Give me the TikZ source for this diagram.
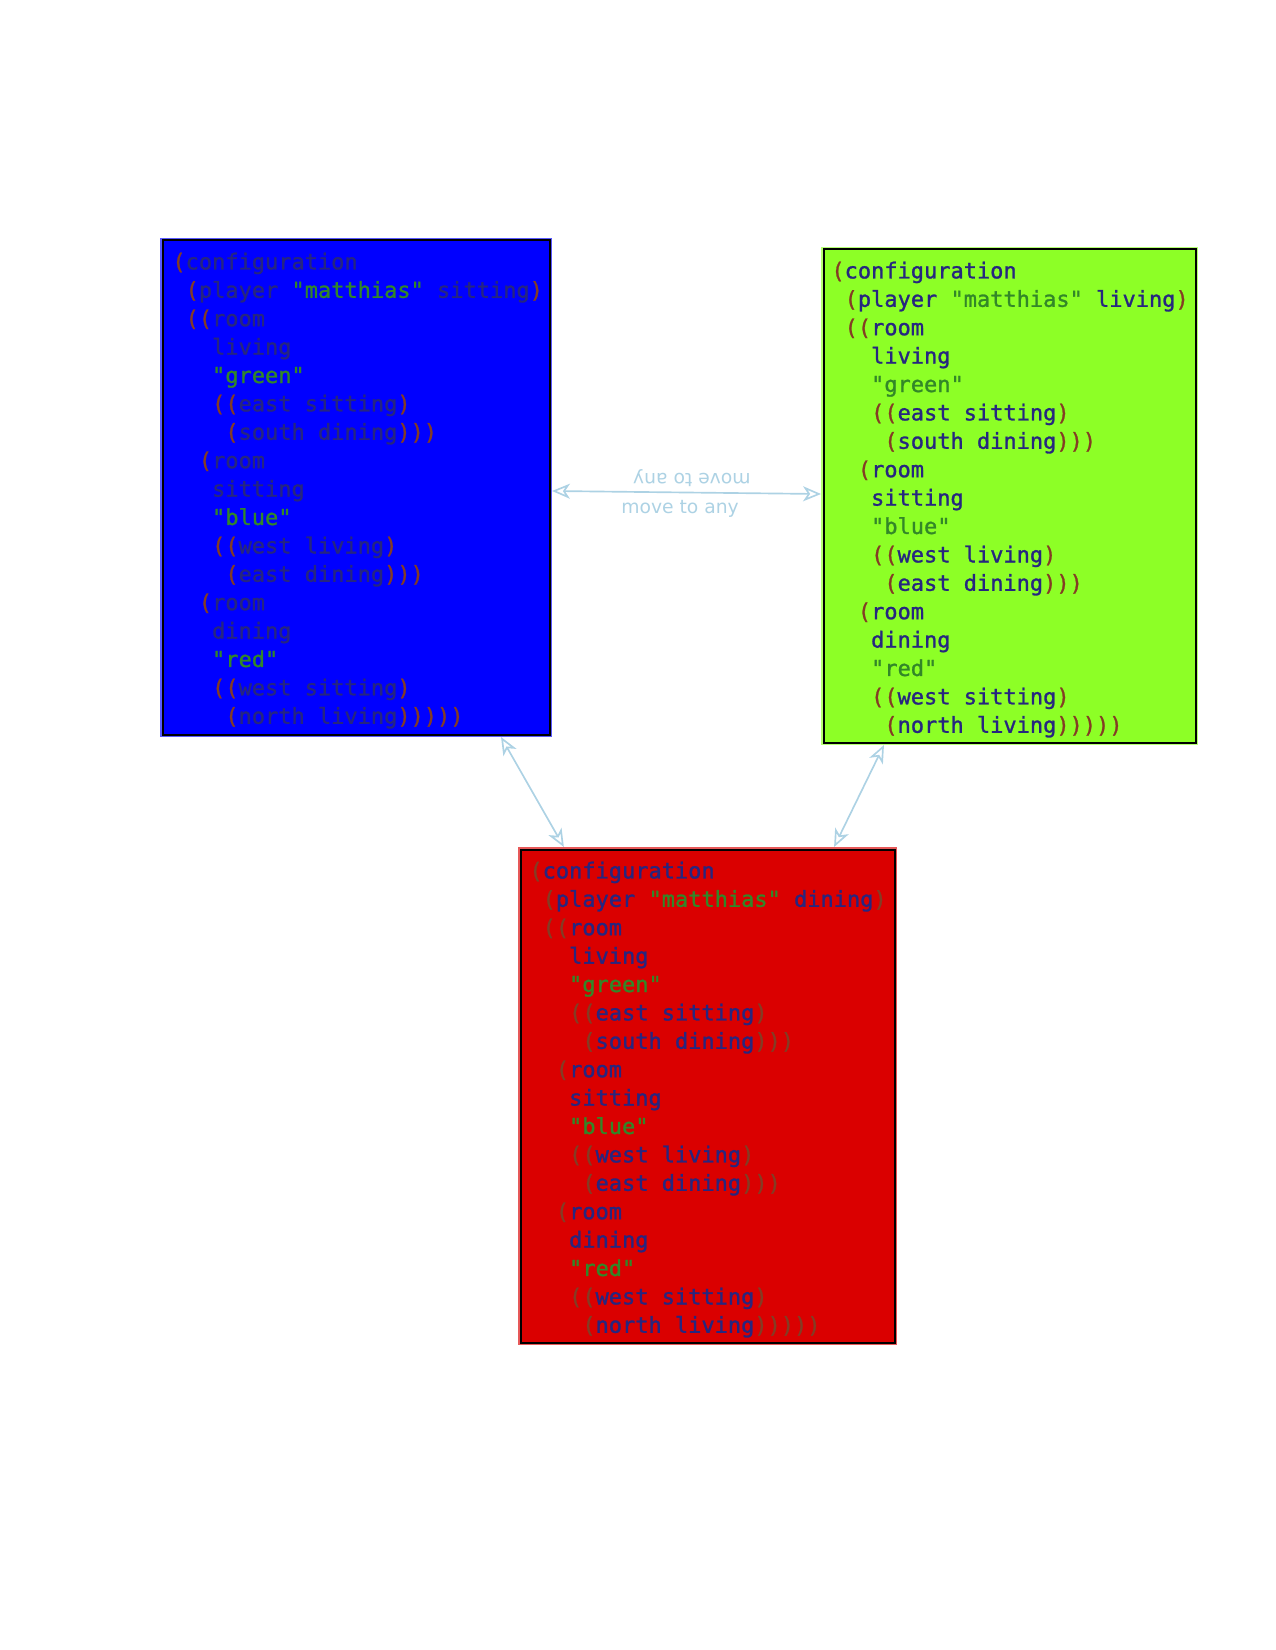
\documentclass[tikz,border=0pt]{standalone}
\usepackage{fontspec}
\usetikzlibrary{arrows.meta,calc}
\newfontfamily\cfgmono[FakeBold=1.2]{DejaVu Sans Mono}
\newfontfamily\labfont{DejaVu Sans}
\newlength\pxl \setlength\pxl{0.48pt}
\definecolor{boxblue}{RGB}{0,0,255}
\definecolor{boxgreen}{RGB}{141,255,38}
\definecolor{boxred}{RGB}{218,0,0}
\definecolor{parc}{RGB}{132,60,36}
\definecolor{symc}{RGB}{38,38,128}
\definecolor{strc}{RGB}{50,135,40}
\definecolor{arrc}{RGB}{173,210,228}
\newcommand\cp[1]{\textcolor{parc}{#1}}
\newcommand\cs[1]{\textcolor{symc}{#1}}
\newcommand\cg[1]{\textcolor{strc}{#1}}
\newcommand\ind[1]{\hspace*{\dimexpr#1\fontcharwd\font`x\relax}}
\newcommand\cfgtext[1]{%
\rule{0pt}{14.88pt}\cp{(}\cs{configuration}\\
\ind{1}\cp{(}\cs{player} \cg{"matthias"} \cs{#1}\cp{)}\\
\ind{1}\cp{((}\cs{room}\\
\ind{3}\cs{living}\\
\ind{3}\cg{"green"}\\
\ind{3}\cp{((}\cs{east sitting}\cp{)}\\
\ind{4}\cp{(}\cs{south dining}\cp{)))}\\
\ind{2}\cp{(}\cs{room}\\
\ind{3}\cs{sitting}\\
\ind{3}\cg{"blue"}\\
\ind{3}\cp{((}\cs{west living}\cp{)}\\
\ind{4}\cp{(}\cs{east dining}\cp{)))}\\
\ind{2}\cp{(}\cs{room}\\
\ind{3}\cs{dining}\\
\ind{3}\cg{"red"}\\
\ind{3}\cp{((}\cs{west sitting}\cp{)}\\
\ind{4}\cp{(}\cs{north living}\cp{)))))}}
\tikzset{
  ah/.tip={Stealth[open,length=8.6pt,width=7.2pt,inset=2.4pt]},
  cfgbox/.style={rectangle, fill=#1, draw=black, line width=0.96pt,
    inner sep=0pt, outer sep=1.2pt,
    preaction={draw=#1!65!white, line width=2.4pt}},
  cfgtxt/.style={anchor=north west, inner sep=0pt, align=left,
    font={\cfgmono\fontsize{10.55}{13.63}\selectfont}},
  movearrow/.style={draw=arrc, line width=0.8pt, ah-ah},
  lab/.style={text=arrc, font={\labfont\fontsize{9}{11}\selectfont}},
}
\begin{document}
\begin{tikzpicture}[x=0.48pt,y=-0.48pt]
\useasboundingbox (0,0) rectangle (1275,1650);
% boxes
\node[cfgbox=boxblue, minimum width=185.76pt, minimum height=237.12pt] (blue) at (356,487.5) {};
\node[cfgbox=boxgreen, minimum width=178.56pt, minimum height=236.64pt] (green) at (1009.5,496) {};
\node[cfgbox=boxred, minimum width=179.52pt, minimum height=236.64pt] (red) at (707.5,1096) {};
% texts
\node[cfgtxt] (bluetext) at ($(blue.north west)+(12,0)$) {\cfgtext{sitting}};
\node[cfgtxt] (greentext) at ($(green.north west)+(10,0)$) {\cfgtext{living}};
\node[cfgtxt] (redtext) at ($(red.north west)+(11,0)$) {\cfgtext{dining}};
% connector end points
\coordinate (b1) at ($(blue.north east)!0.507!(blue.south east)$);
\coordinate (g1) at ($(green.north west)!0.496!(green.south west)$);
\coordinate (b2) at ($(blue.south west)!0.87!(blue.south east)$);
\coordinate (r2) at ($(red.north west)!0.121!(red.north east)$);
\coordinate (g3) at ($(green.south west)!0.167!(green.south east)$);
\coordinate (r3) at ($(red.north west)!0.834!(red.north east)$);
% connectors
\draw[movearrow] (b1) -- (g1)
  node[lab, pos=0.476, anchor=north, inner sep=3.2pt] (lab1) {move to any}
  node[lab, pos=0.52, rotate=180, anchor=north, inner sep=2.2pt] (lab2) {move to any};
\draw[movearrow] (b2) -- (r2);
\draw[movearrow] (g3) -- (r3);
\end{tikzpicture}
\end{document}
